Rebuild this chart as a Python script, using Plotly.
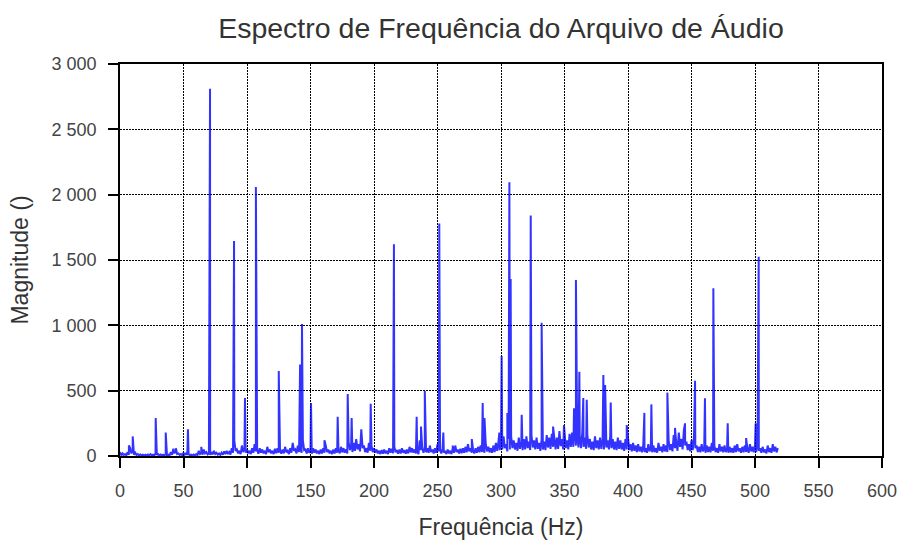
import plotly.graph_objects as go

# Peak frequencies (Hz) and magnitudes
peak_freq = [7, 10, 28.1, 36, 44, 53.5, 64, 70.9, 89.8, 98.4, 107, 125, 141.8, 143.3, 150.4,
             161, 171.4, 179.3, 182.4, 190, 197.4, 215.7, 233.6, 237, 240, 251.4, 254.6, 262,
             277, 285.6, 287, 298.7, 300.5, 305, 306.6, 307.6, 316.3, 323.4, 332, 341, 349.6,
             357.5, 359, 361.7, 364.8, 367.5, 380.6, 382, 386.4, 399, 412.9, 418.4, 431, 437,
             444.9, 452.8, 460.6, 467.2, 478.5, 493, 500.5, 502.9]
peak_mag = [80, 150, 290, 180, 60, 205, 70, 2810, 1645, 444, 2059, 650, 700, 1010, 405,
            120, 300, 475, 290, 205, 400, 1620, 300, 225, 497, 1780, 180, 80,
            130, 405, 290, 180, 765, 330, 2095, 1355, 315, 1840, 1020, 225, 237,
            365, 1347, 645, 444, 430, 620, 543, 410, 237, 330, 395, 485, 215,
            250, 576, 441, 1283, 250, 137, 250, 1525]

# Noise-floor crests read every 2 Hz (even Hz, 0..518)
crest_freq = list(range(0, 519, 2))
crest_mag = [30, 20, 15, 30, 60, 40, 25, 15, 12, 10,
             10, 12, 15, 10, 20, 15, 12, 10, 15, 10,
             30, 55, 40, 20, 15, 25, 20, 15, 10, 12,
             15, 40, 25, 50, 30, 20, 30, 40, 25, 20,
             25, 35, 40, 30, 60, 120, 50, 40, 80, 60,
             50, 40, 60, 90, 45, 60, 50, 40, 70, 50,
             40, 55, 60, 45, 50, 70, 40, 60, 100, 50,
             80, 60, 120, 50, 60, 45, 60, 50, 40, 50,
             60, 80, 50, 40, 50, 60, 50, 70, 60, 50,
             110, 80, 100, 130, 90, 150, 80, 60, 100, 80,
             60, 50, 40, 45, 50, 40, 60, 55, 70, 45,
             50, 60, 45, 50, 70, 60, 50, 40, 120, 60,
             70, 60, 80, 50, 60, 90, 50, 60, 40, 50,
             40, 60, 80, 50, 55, 60, 70, 90, 60, 50,
             60, 70, 80, 60, 90, 70, 60, 80, 100, 110,
             120, 150, 90, 130, 150, 120, 100, 140, 110, 130,
             150, 110, 160, 120, 140, 100, 130, 110, 160, 140,
             170, 120, 140, 190, 130, 150, 120, 170, 180, 200,
             160, 150, 180, 140, 160, 130, 110, 150, 120, 140,
             130, 160, 120, 150, 130, 110, 140, 120, 100, 130,
             110, 90, 100, 80, 90, 70, 80, 60, 90, 70,
             80, 60, 100, 70, 90, 80, 120, 90, 160, 100,
             180, 130, 200, 110, 90, 120, 160, 80, 70, 90,
             60, 80, 70, 100, 80, 60, 90, 70, 80, 60,
             70, 60, 80, 90, 60, 70, 80, 60, 90, 70,
             80, 100, 60, 70, 50, 80, 60, 90, 70, 60]

# Noise-floor troughs read at odd Hz (1..517)
trough_freq = list(range(1, 518, 2))
trough_mag = [5, 8, 5, 10, 20, 10, 8, 5, 5, 4,
              4, 5, 6, 4, 8, 5, 5, 4, 6, 4,
              10, 20, 15, 8, 6, 10, 8, 6, 4, 5,
              6, 15, 10, 20, 12, 8, 12, 15, 10, 8,
              10, 15, 15, 12, 25, 40, 20, 15, 30, 25,
              20, 15, 25, 35, 18, 25, 20, 15, 28, 20,
              15, 22, 25, 18, 20, 28, 15, 25, 40, 20,
              30, 25, 45, 20, 25, 18, 25, 20, 15, 20,
              25, 30, 20, 15, 20, 25, 20, 28, 25, 20,
              45, 30, 40, 50, 35, 60, 30, 25, 40, 30,
              25, 20, 15, 18, 20, 15, 25, 22, 28, 18,
              20, 25, 18, 20, 28, 25, 20, 15, 45, 25,
              28, 25, 30, 20, 25, 35, 20, 25, 15, 20,
              15, 25, 30, 20, 22, 25, 28, 35, 25, 20,
              25, 28, 30, 25, 35, 28, 25, 30, 40, 45,
              50, 60, 35, 50, 60, 50, 40, 55, 45, 50,
              60, 45, 65, 50, 55, 40, 50, 45, 65, 55,
              70, 50, 55, 75, 50, 60, 50, 70, 70, 80,
              65, 60, 70, 55, 65, 50, 45, 60, 50, 55,
              50, 65, 50, 60, 50, 45, 55, 50, 40, 50,
              45, 35, 40, 30, 35, 28, 30, 25, 35, 28,
              30, 25, 40, 28, 35, 30, 45, 35, 60, 40,
              70, 50, 80, 45, 35, 45, 60, 30, 28, 35,
              25, 30, 28, 40, 30, 25, 35, 28, 30, 25,
              28, 25, 30, 35, 25, 28, 30, 25, 35, 28,
              30, 40, 25, 28, 20, 30, 25, 35, 28]

x_ticks = [0, 50, 100, 150, 200, 250, 300, 350, 400, 450, 500, 550, 600]
y_ticks = [0, 500, 1000, 1500, 2000, 2500, 3000]

pts = sorted(zip(crest_freq + trough_freq + peak_freq,
                 crest_mag + trough_mag + peak_mag))
xs = [p[0] for p in pts]
ys = [p[1] for p in pts]

fig = go.Figure()
fig.add_trace(go.Scatter(x=xs, y=ys, mode="lines",
                         line=dict(color="rgba(0,0,255,0.8)", width=2),
                         showlegend=False, hoverinfo="x+y"))

axis_common = dict(showline=True, linecolor="black", linewidth=1.6, mirror=True,
                   ticks="outside", ticklen=10, tickcolor="black", tickwidth=1.6,
                   ticklabelstandoff=8, automargin=False,
                   showgrid=True, gridcolor="black", griddash="1.5px,1.5px", gridwidth=1.3,
                   zeroline=False, tickfont=dict(size=18, color="#444"),
                   title_font=dict(size=23, color="#333"))

fig.update_xaxes(range=[0, 600], tickvals=x_ticks, title_text="Frequência (Hz)",
                 title_standoff=18, **axis_common)
fig.update_yaxes(range=[0, 3000], tickvals=y_ticks, separatethousands=True,
                 title_text="Magnitude ()", title_standoff=17, **axis_common)

fig.update_layout(
    width=901, height=542,
    margin=dict(l=120, r=19, t=64, b=86, autoexpand=False),
    paper_bgcolor="white", plot_bgcolor="white",
    separators=". ",
    font=dict(family="Liberation Sans, Arial, sans-serif", color="#333"),
    title=dict(text="Espectro de Frequência do Arquivo de Áudio",
               x=0.556, xanchor="center", y=0.948, yanchor="middle",
               font=dict(size=28.5, color="#333")),
)

fig.write_html("out.html")
